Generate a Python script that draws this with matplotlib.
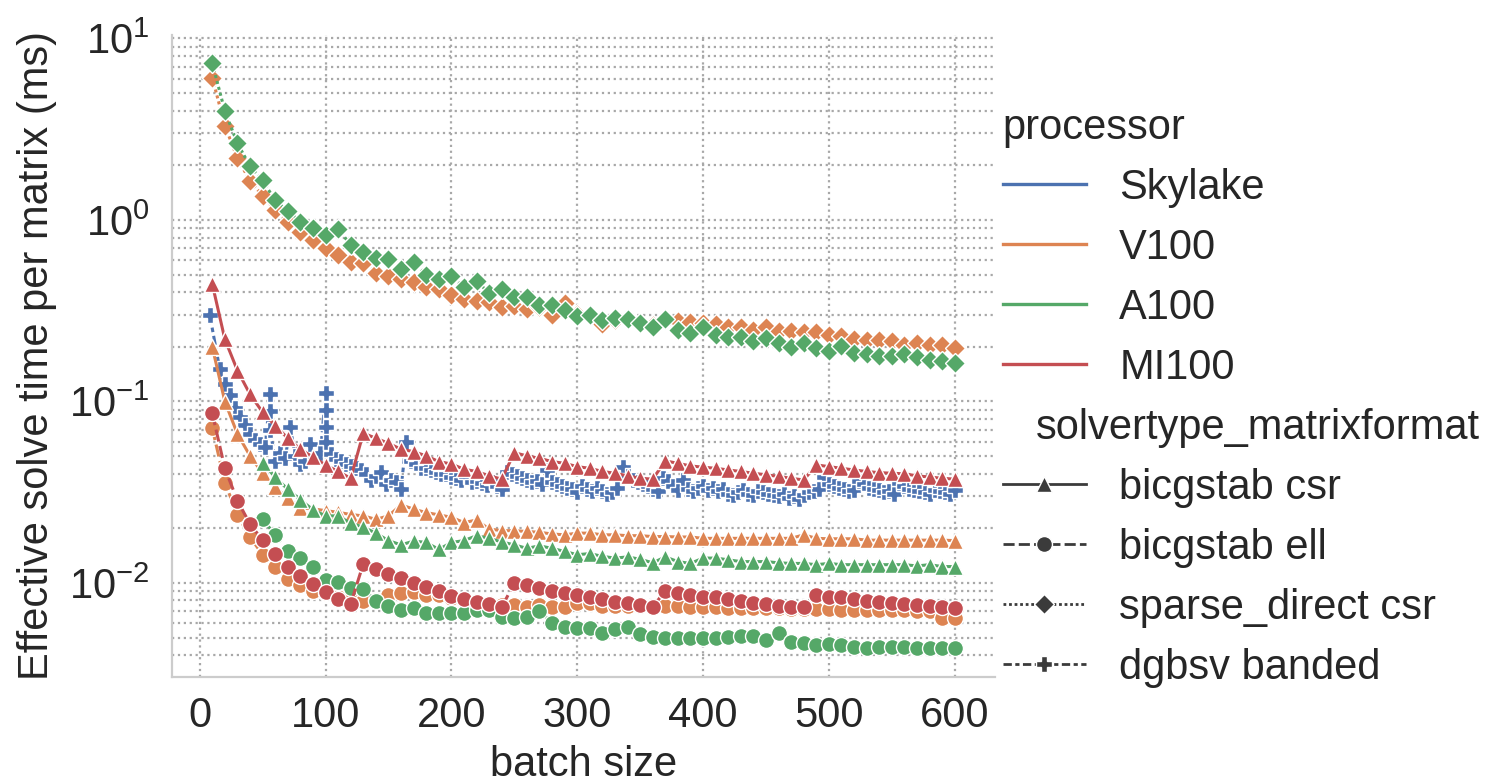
import matplotlib
matplotlib.use("Agg")
import matplotlib.pyplot as plt
from matplotlib.lines import Line2D
import matplotlib.offsetbox as moffsetbox
import matplotlib.ticker as mticker

plt.rcParams['font.family'] = ['Liberation Sans', 'DejaVu Sans']
FS = 30

# ---------------- data ----------------
processors = ["Skylake", "V100", "A100", "MI100"]
solvertypes = ["bicgstab csr", "bicgstab ell", "sparse_direct csr", "dgbsv banded"]

gpu_batch = list(range(10, 601, 10))        # V100 / MI100 / A100 sparse_direct
a100_bicg_batch = list(range(50, 601, 10))  # A100 bicgstab runs

v100_csr = [0.200, 0.0998, 0.0662, 0.0501, 0.0402, 0.0337, 0.0293, 0.0258, 0.0256, 0.0250,
            0.0245, 0.0238, 0.0234, 0.0224, 0.0234, 0.0269, 0.0255, 0.0244, 0.0237, 0.0230,
            0.0215, 0.0222, 0.0198, 0.0194, 0.0194, 0.0192, 0.0190, 0.0186, 0.0184, 0.0188,
            0.0188, 0.0184, 0.0184, 0.0182, 0.0182, 0.0180, 0.0180, 0.0179, 0.0179, 0.0176,
            0.0176, 0.0176, 0.0176, 0.0176, 0.0176, 0.0176, 0.0176, 0.0184, 0.0176, 0.0175,
            0.0175, 0.0175, 0.0172, 0.0172, 0.0172, 0.0172, 0.0172, 0.0172, 0.0172, 0.0171]
mi100_csr = [0.444, 0.220, 0.148, 0.1095, 0.0872, 0.0736, 0.0627, 0.0545, 0.0493, 0.0447,
             0.0411, 0.0377, 0.0668, 0.0627, 0.0588, 0.0545, 0.0529, 0.0501, 0.0466, 0.0452,
             0.0423, 0.0411, 0.0389, 0.0373, 0.0522, 0.0501, 0.0486, 0.0466, 0.0456, 0.0437,
             0.0428, 0.0411, 0.0402, 0.0389, 0.0377, 0.0373, 0.0470, 0.0456, 0.0441, 0.0434,
             0.0428, 0.0419, 0.0411, 0.0402, 0.0394, 0.0386, 0.0377, 0.0369, 0.0447, 0.0437,
             0.0428, 0.0419, 0.0411, 0.0405, 0.0402, 0.0399, 0.0389, 0.0383, 0.0377, 0.0373]
a100_csr = [0.0460, 0.0382, 0.0328, 0.0287, 0.0253, 0.0234, 0.0234, 0.0213, 0.0203, 0.0188,
            0.0171, 0.0162, 0.0170, 0.0167, 0.0153, 0.0167, 0.0171, 0.0182, 0.0176, 0.0168,
            0.0162, 0.0155, 0.0160, 0.0155, 0.0149, 0.0143,
            0.0145, 0.0140, 0.0137, 0.0139, 0.0135, 0.0129, 0.0139, 0.0131, 0.0128, 0.0137,
            0.0137, 0.0134, 0.0131, 0.0131, 0.0131, 0.0129, 0.0128, 0.0128, 0.0126, 0.0128,
            0.0126, 0.0126, 0.0126, 0.0126, 0.0126, 0.0126, 0.0124, 0.0126, 0.0123, 0.0123]

v100_ell = [0.0712, 0.0357, 0.0237, 0.0179, 0.0143, 0.0122, 0.01047, 0.00975, 0.00907, 0.00878,
            0.00841, 0.00823, 0.00799, 0.00806, 0.00859, 0.00884, 0.00896, 0.00859, 0.00859, 0.00823,
            0.00806, 0.00789, 0.00773, 0.00756, 0.00756, 0.00735, 0.00756, 0.00735, 0.00735, 0.00779,
            0.00773, 0.00747, 0.00747, 0.00747, 0.00747, 0.00747, 0.00747, 0.00747, 0.00735, 0.00735,
            0.00735, 0.00725, 0.00725, 0.00725, 0.00725, 0.00725, 0.00716, 0.00716, 0.00716, 0.00716,
            0.00710, 0.00706, 0.00706, 0.00706, 0.00706, 0.00706, 0.00697, 0.00697, 0.00639, 0.00639]
mi100_ell = [0.0861, 0.0428, 0.0284, 0.0211, 0.0172, 0.0145, 0.0122, 0.0109, 0.00987, 0.00896,
             0.00813, 0.00766, 0.01273, 0.01190, 0.0112, 0.0106, 0.01004, 0.00946, 0.00907, 0.00848,
             0.00813, 0.00789, 0.00766, 0.00735, 0.00996, 0.00975, 0.00935, 0.00907, 0.00878, 0.00859,
             0.00841, 0.00813, 0.00789, 0.00779, 0.00756, 0.00735, 0.00907, 0.00884, 0.00859, 0.00841,
             0.00834, 0.00813, 0.00799, 0.00779, 0.00766, 0.00747, 0.00741, 0.00735, 0.00859, 0.00841,
             0.00834, 0.00813, 0.00799, 0.00789, 0.00779, 0.00766, 0.00756, 0.00747, 0.00735, 0.00725]
a100_ell = [0.0224, 0.0184, 0.0149, 0.0137, 0.0123, 0.01039, 0.01017, 0.00935, 0.00923, 0.00799,
            0.00747, 0.00710, 0.00725, 0.00681, 0.00681, 0.00686, 0.00686, 0.00710, 0.00706, 0.00647,
            0.00639, 0.00647, 0.00697, 0.00604, 0.00575, 0.00563,
            0.00563, 0.00532, 0.00556, 0.00575, 0.00524, 0.00502, 0.00496, 0.00496, 0.00496, 0.00496,
            0.00496, 0.00502, 0.00511, 0.00511, 0.00485, 0.00528, 0.00475, 0.00465, 0.00455, 0.00461,
            0.00455, 0.00442, 0.00436, 0.00442, 0.00446, 0.00442, 0.00436, 0.00436, 0.00436, 0.00436]

v100_sparse = [6.08, 3.31, 2.19, 1.64, 1.36, 1.135, 0.970, 0.862, 0.776, 0.698,
               0.642, 0.589, 0.577, 0.513, 0.488, 0.471, 0.457, 0.429, 0.415, 0.386,
               0.366, 0.359, 0.355, 0.330, 0.336, 0.322, 0.330, 0.300, 0.347, 0.305,
               0.300, 0.266, 0.280, 0.280, 0.272, 0.265, 0.282, 0.279, 0.275, 0.270,
               0.267, 0.256, 0.256, 0.248, 0.256, 0.243, 0.243, 0.240, 0.240, 0.232,
               0.229, 0.220, 0.218, 0.218, 0.216, 0.205, 0.209, 0.205, 0.205, 0.196]
a100_sparse = [7.30, 3.98, 2.64, 1.98, 1.65, 1.28, 1.12, 0.980, 0.900, 0.830,
               0.890, 0.730, 0.670, 0.615, 0.607, 0.535, 0.585, 0.500, 0.470, 0.490,
               0.426, 0.463, 0.394, 0.415, 0.378, 0.378, 0.340, 0.340, 0.317, 0.297,
               0.300, 0.281, 0.287, 0.284, 0.270, 0.258, 0.284, 0.248, 0.238, 0.258,
               0.232, 0.226, 0.226, 0.216, 0.223, 0.209, 0.2005, 0.211, 0.196, 0.1905,
               0.202, 0.184, 0.183, 0.178, 0.177, 0.183, 0.175, 0.169, 0.168, 0.162]

skylake_batch = [8, 16, 20, 24, 28, 32, 36, 40, 44, 48, 52, 56, 56, 56, 60, 64, 68, 72, 76, 80,
                 84, 88, 92, 96, 100, 100, 100, 100, 104, 108, 112, 116, 120, 124, 128, 132, 136, 140, 144, 148,
                 152, 156, 160, 164, 168, 172, 176, 180, 184, 188, 192, 196, 200, 204, 208, 212, 216, 220, 224, 228,
                 232, 236, 240, 244, 248, 252, 256, 260, 264, 268, 272, 276, 280, 284, 288, 292, 296, 300, 304, 308,
                 312, 316, 320, 324, 328, 332, 336, 340, 344, 348, 352, 356, 360, 364, 368, 372, 376, 380, 384, 388,
                 392, 396, 400, 404, 408, 412, 416, 420, 424, 428, 432, 436, 440, 444, 448, 452, 456, 460, 464, 468,
                 472, 476, 480, 484, 488, 492, 496, 500, 504, 508, 512, 516, 520, 524, 528, 532, 536, 540, 544, 548,
                 552, 556, 560, 564, 568, 572, 576, 580, 584, 588, 592, 596, 600]
skylake_dgbsv = [0.300, 0.150, 0.124, 0.108, 0.092, 0.082, 0.074, 0.066, 0.061, 0.058, 0.056, 0.110, 0.088, 0.070, 0.047, 0.052, 0.049, 0.072, 0.050, 0.045,
                 0.047, 0.058, 0.049, 0.052, 0.111, 0.090, 0.072, 0.060, 0.051, 0.048, 0.047, 0.045, 0.044, 0.043, 0.042, 0.040, 0.037, 0.039, 0.041, 0.035,
                 0.037, 0.036, 0.033, 0.060, 0.047, 0.045, 0.043, 0.043, 0.042, 0.041, 0.040, 0.040, 0.0385, 0.038, 0.037, 0.039, 0.036, 0.0365, 0.0355, 0.0345,
                 0.036, 0.034, 0.0328, 0.041, 0.040, 0.039, 0.038, 0.037, 0.036, 0.0365, 0.035, 0.042, 0.036, 0.035, 0.034, 0.0335, 0.033, 0.0315, 0.034, 0.033,
                 0.032, 0.0335, 0.032, 0.031, 0.0315, 0.0335, 0.0435, 0.039, 0.037, 0.036, 0.035, 0.034, 0.033, 0.032, 0.038, 0.0365, 0.034, 0.0325, 0.037, 0.033,
                 0.032, 0.0335, 0.034, 0.0325, 0.0335, 0.032, 0.033, 0.031, 0.0305, 0.0315, 0.0325, 0.031, 0.0305, 0.032, 0.0315, 0.031, 0.0305, 0.030, 0.031, 0.0295,
                 0.030, 0.029, 0.0305, 0.0315, 0.032, 0.033, 0.0385, 0.035, 0.034, 0.0335, 0.033, 0.032, 0.0325, 0.0365, 0.035, 0.0335, 0.033, 0.0325, 0.0315, 0.032,
                 0.031, 0.0355, 0.034, 0.033, 0.0325, 0.032, 0.0315, 0.031, 0.0325, 0.032, 0.0315, 0.031, 0.0325]

# (processor, solvertype, batch sizes, times) in seaborn drawing order
series = [
    ("Skylake", "dgbsv banded", skylake_batch, skylake_dgbsv),
    ("V100", "bicgstab csr", gpu_batch, v100_csr),
    ("V100", "bicgstab ell", gpu_batch, v100_ell),
    ("V100", "sparse_direct csr", gpu_batch, v100_sparse),
    ("A100", "bicgstab csr", a100_bicg_batch, a100_csr),
    ("A100", "bicgstab ell", a100_bicg_batch, a100_ell),
    ("A100", "sparse_direct csr", gpu_batch, a100_sparse),
    ("MI100", "bicgstab csr", gpu_batch, mi100_csr),
    ("MI100", "bicgstab ell", gpu_batch, mi100_ell),
]

# ---------------- styles ----------------
palette = {"Skylake": "#4C72B0", "V100": "#DD8452", "A100": "#55A868", "MI100": "#C44E52"}
markers = {"bicgstab csr": "^", "bicgstab ell": "o", "sparse_direct csr": "D", "dgbsv banded": "P"}
msizes = {"bicgstab csr": 11.5, "bicgstab ell": 11.5, "sparse_direct csr": 10.5, "dgbsv banded": 11}
dashes = {"bicgstab csr": None, "bicgstab ell": (4, 1.5), "sparse_direct csr": (1, 1),
          "dgbsv banded": (3, 1.25, 1.5, 1.25)}
LW = 2.2

fig = plt.figure(figsize=(14.99, 7.82), dpi=100)
ax = fig.add_axes([172 / 1499, 1 - 677 / 782, (995 - 172) / 1499, (677 - 35) / 782])

for proc, st, xs, ys in series:
    kw = dict(color=palette[proc], lw=LW, marker=markers[st], markersize=msizes[st],
              markeredgecolor="white", markeredgewidth=1.0, zorder=3)
    if dashes[st] is None:
        kw["linestyle"] = "-"
    else:
        kw["dashes"] = dashes[st]
    ax.plot(xs, ys, **kw)

ax.set_yscale("log")
ax.set_xlim(-22, 632)
ax.set_ylim(0.00303, 10.45)
ax.xaxis.set_major_locator(mticker.MultipleLocator(100))
ax.yaxis.set_major_locator(mticker.LogLocator(base=10, numticks=10))
ax.yaxis.set_minor_locator(mticker.LogLocator(base=10, subs=(2, 3, 4, 5, 6, 7, 8, 9), numticks=20))
ax.yaxis.set_minor_formatter(mticker.NullFormatter())

ax.grid(which="major", axis="both", linestyle=":", color="#a8a8a8", linewidth=1.6, zorder=0)
ax.grid(which="minor", axis="y", linestyle=":", color="#a8a8a8", linewidth=1.6, zorder=0)
ax.set_axisbelow(True)
ax.tick_params(which="both", length=0, labelsize=FS, colors="#262626")
ax.tick_params(axis="x", pad=14)
ax.tick_params(axis="y", pad=16)
for s in ["top", "right"]:
    ax.spines[s].set_visible(False)
for s in ["left", "bottom"]:
    ax.spines[s].set_color("#cccccc")
    ax.spines[s].set_linewidth(1.6)

ax.set_xlabel("batch size", fontsize=FS, color="#262626", labelpad=6)
ax.set_ylabel("Effective solve time per matrix (ms)", fontsize=FS, color="#262626", labelpad=9)

# ---------------- legend (seaborn-like with subtitle) ----------------
handles, labels = [], []
for p in processors:
    handles.append(Line2D([], [], color=palette[p], lw=2.4)); labels.append(p)
handles.append(Line2D([], [], visible=False)); labels.append("solvertype_matrixformat")
for st in solvertypes:
    kw = dict(color="#3b3b3b", lw=2.0, marker=markers[st], markersize=msizes[st],
              markeredgecolor="white", markeredgewidth=1.0)
    if dashes[st] is None:
        kw["linestyle"] = "-"
    else:
        kw["dashes"] = dashes[st]
    handles.append(Line2D([], [], **kw)); labels.append(st)

leg = fig.legend(handles, labels, loc="center left", bbox_to_anchor=(965 / 1499, 1 - 398 / 782),
                 frameon=False, fontsize=FS, labelspacing=0.48, handlelength=2.0,
                 handletextpad=0.8, borderpad=0.4, title="processor", title_fontsize=FS,
                 alignment="left")
leg.get_title().set_color("#262626")
for t in leg.get_texts():
    t.set_color("#262626")
for hpack in leg.findobj(moffsetbox.VPacker)[0].get_children():
    draw_area, text_area = hpack.get_children()
    if not all(a.get_visible() for a in draw_area.get_children()):
        draw_area.set_width(0)

fig.savefig("out.png", dpi=100)
